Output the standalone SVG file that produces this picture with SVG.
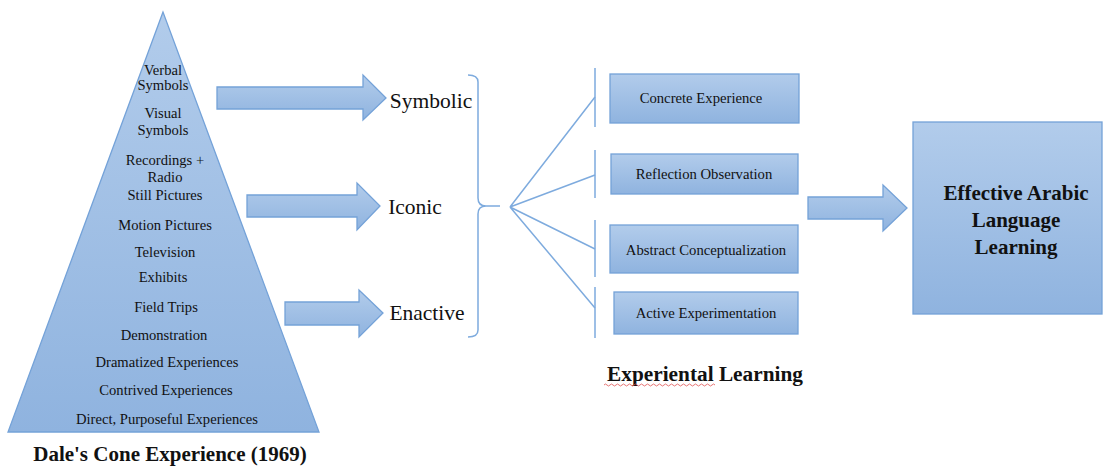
<svg xmlns="http://www.w3.org/2000/svg" width="1103" height="470" viewBox="0 0 1103 470">
<style>
.shape{stroke:#74a2d8;stroke-width:1.3}
.line{fill:none;stroke:#7eabde;stroke-width:1.5}
text{font-family:'Liberation Serif','Times New Roman',serif;fill:#111;text-anchor:middle}
.pt{font-size:14.6px}
.big{font-size:21.5px}
.bt{font-size:14.7px}
.bold{font-weight:bold;font-size:21px}
</style>
<defs>
<linearGradient id="g" x1="0" y1="0" x2="0" y2="1">
<stop offset="0" stop-color="#b2cceb"/>
<stop offset="1" stop-color="#8fb3df"/>
</linearGradient>
</defs>
<rect width="1103" height="470" fill="#fff"/>

<g id="cone">
<polygon class="shape" fill="url(#g)" points="163,12 8,432 319,432"/>
<text class="pt" x="163" y="75">Verbal</text>
<text class="pt" x="163" y="90">Symbols</text>
<text class="pt" x="163" y="118">Visual</text>
<text class="pt" x="163" y="135">Symbols</text>
<text class="pt" x="165" y="165">Recordings +</text>
<text class="pt" x="165" y="182">Radio</text>
<text class="pt" x="165" y="200">Still Pictures</text>
<text class="pt" x="165" y="230">Motion Pictures</text>
<text class="pt" x="165" y="257">Television</text>
<text class="pt" x="163" y="282">Exhibits</text>
<text class="pt" x="166" y="312">Field Trips</text>
<text class="pt" x="164" y="340">Demonstration</text>
<text class="pt" x="167" y="367">Dramatized Experiences</text>
<text class="pt" x="166" y="395">Contrived Experiences</text>
<text class="pt" x="167" y="424">Direct, Purposeful Experiences</text>
<text class="bold" x="170" y="461">Dale's Cone Experience (1969)</text>
</g>

<g id="connectors">
<polygon class="shape" fill="url(#g)" points="217,87 363,87 363,75 386,98 363,120 363,109 217,109"/>
<polygon class="shape" fill="url(#g)" points="247,195 357,195 357,183 380,206 357,230 357,217 247,217"/>
<polygon class="shape" fill="url(#g)" points="285,302 359,302 359,290 383,313 359,337 359,325 285,325"/>
<path class="line" d="M468,75 Q478,75 478,82 L478,198 Q478,206 486,206 L500,206 M486,206 Q478,206 478,214 L478,330 Q478,337 468,337"/>
<path class="line" d="M510,207 L595,97 M510,207 L595,175 M510,207 L595,249 M510,207 L595,308"/>
<path class="line" d="M595,68 V127 M595,150 V198 M595,220 V277 M595,287 V338"/>
<polygon class="shape" fill="url(#g)" points="808,197 883,197 883,185 907,208 883,231 883,219 808,219"/>
</g>

<g id="symbolic"><text class="big" x="431" y="108">Symbolic</text></g>
<g id="iconic"><text class="big" x="415" y="214">Iconic</text></g>
<g id="enactive"><text class="big" x="427" y="320">Enactive</text></g>

<g id="concrete">
<rect class="shape" fill="url(#g)" x="610" y="74" width="189" height="49"/>
<text class="bt" x="701" y="103">Concrete Experience</text>
</g>
<g id="reflection">
<rect class="shape" fill="url(#g)" x="611" y="154" width="187" height="40"/>
<text class="bt" x="704" y="179">Reflection Observation</text>
</g>
<g id="abstract">
<rect class="shape" fill="url(#g)" x="610" y="225" width="188" height="48"/>
<text class="bt" x="706" y="255">Abstract Conceptualization</text>
</g>
<g id="active">
<rect class="shape" fill="url(#g)" x="614" y="292" width="184" height="42"/>
<text class="bt" x="706" y="318">Active Experimentation</text>
</g>

<g id="experiential">
<text class="bold" x="705" y="381" style="font-size:21.3px">Experiental Learning</text>
<path d="M604,385 q1.5,-2 3,0 t3,0 t3,0 t3,0 t3,0 t3,0 t3,0 t3,0 t3,0 t3,0 t3,0 t3,0 t3,0 t3,0 t3,0 t3,0 t3,0 t3,0 t3,0 t3,0 t3,0 t3,0 t3,0 t3,0 t3,0 t3,0 t3,0 t3,0 t3,0 t3,0 t3,0 t3,0 t3,0 t3,0 t3,0 t3,0 t3,0" fill="none" stroke="#e05050" stroke-width="0.8"/>
</g>

<g id="effective">
<rect class="shape" fill="url(#g)" x="913" y="122" width="189" height="192"/>
<text class="bold" x="1016" y="200">Effective Arabic</text>
<text class="bold" x="1016" y="227">Language</text>
<text class="bold" x="1016" y="254">Learning</text>
</g>
</svg>
